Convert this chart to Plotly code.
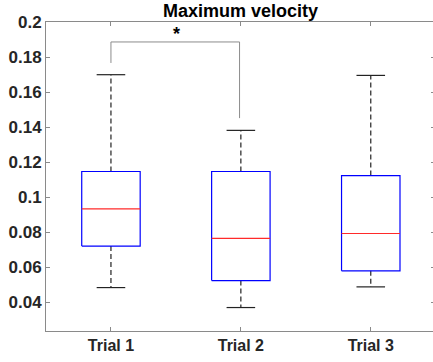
import plotly.graph_objects as go

categories = ["Trial 1", "Trial 2", "Trial 3"]
positions = [1, 2, 3]
q1 = [0.0720, 0.0523, 0.0579]
median = [0.0933, 0.0764, 0.0792]
q3 = [0.1146, 0.1146, 0.1123]
lower_whisker = [0.0483, 0.0369, 0.0487]
upper_whisker = [0.1699, 0.1381, 0.1695]

y_tickvals = [0.04, 0.06, 0.08, 0.10, 0.12, 0.14, 0.16, 0.18, 0.20]
y_ticktext = ["0.04", "0.06", "0.08", "0.1", "0.12", "0.14", "0.16", "0.18", "0.2"]
y_range = [0.0235, 0.2]

# significance bracket between Trial 1 and Trial 2
bracket_x = [1, 1.99]
bracket_top = 0.1886
bracket_feet = [0.1766, 0.1451]
star_x = 1.505
star_y = 0.1934

box_half = 0.225
cap_half = 0.11

fig = go.Figure()

for i, p in enumerate(positions):
    # whiskers (dashed)
    fig.add_trace(go.Scatter(
        x=[p, p, None, p, p],
        y=[q3[i], upper_whisker[i], None, q1[i], lower_whisker[i]],
        mode="lines", line=dict(color="#222222", width=1.2, dash="5px,3px"),
        hoverinfo="skip", showlegend=False))
    # caps
    fig.add_trace(go.Scatter(
        x=[p - cap_half, p + cap_half, None, p - cap_half, p + cap_half],
        y=[upper_whisker[i], upper_whisker[i], None, lower_whisker[i], lower_whisker[i]],
        mode="lines", line=dict(color="#222222", width=1.2),
        hoverinfo="skip", showlegend=False))
    # box
    fig.add_trace(go.Scatter(
        x=[p - box_half, p + box_half, p + box_half, p - box_half, p - box_half],
        y=[q1[i], q1[i], q3[i], q3[i], q1[i]],
        mode="lines", line=dict(color="#0000ff", width=1.2),
        hoverinfo="skip", showlegend=False))
    # median
    fig.add_trace(go.Scatter(
        x=[p - box_half, p + box_half],
        y=[median[i], median[i]],
        mode="lines", line=dict(color="#ff2a2a", width=1.2),
        hoverinfo="skip", showlegend=False))

# bracket
fig.add_trace(go.Scatter(
    x=[bracket_x[0], bracket_x[0], bracket_x[1], bracket_x[1]],
    y=[bracket_feet[0], bracket_top, bracket_top, bracket_feet[1]],
    mode="lines", line=dict(color="#8c8c8c", width=1),
    hoverinfo="skip", showlegend=False))

# empty trace to show the right-hand tick marks
fig.add_trace(go.Scatter(x=[], y=[], yaxis="y2", showlegend=False, hoverinfo="skip"))

fig.add_annotation(x=star_x, y=star_y, text="<b>*</b>",
                   showarrow=False, font=dict(size=18, color="#000000",
                                              family="Liberation Sans, Arial"),
                   yanchor="middle")

# title
fig.add_annotation(text="<b>Maximum velocity</b>", xref="x", yref="paper",
                   x=2, y=1, xanchor="center", yanchor="bottom", yshift=-1,
                   showarrow=False,
                   font=dict(size=18, color="#000000", family="Liberation Sans, Arial"))

axis_color = "#8a8a8a"
fig.update_layout(
    width=433, height=362,
    margin=dict(l=46, r=0, t=22, b=31),
    plot_bgcolor="white", paper_bgcolor="white",
    font=dict(family="Liberation Sans, Arial", color="#262626", size=16),
    xaxis=dict(range=[0.5, 3.479], tickvals=positions,
               ticktext=["<b>%s</b>" % c for c in categories],
               showline=True, linecolor=axis_color, linewidth=1, mirror="ticks",
               ticks="inside", ticklen=4, tickcolor=axis_color,
               showgrid=False, zeroline=False, automargin=False),
    yaxis=dict(range=y_range, tickvals=y_tickvals,
               ticktext=["<b>%s</b>" % t for t in y_ticktext],
               tickfont=dict(size=17),
               showline=True, linecolor=axis_color, linewidth=1,
               ticks="inside", ticklen=4, tickcolor=axis_color,
               showgrid=False, zeroline=False, automargin=False),
    yaxis2=dict(range=y_range, tickvals=y_tickvals, overlaying="y", side="right",
                showticklabels=False, showline=False, ticks="inside", ticklen=2,
                tickcolor=axis_color, showgrid=False, zeroline=False,
                automargin=False),
)

fig.write_html("out.html", config={"displayModeBar": False},
               post_script="document.body.style.margin='0';")
